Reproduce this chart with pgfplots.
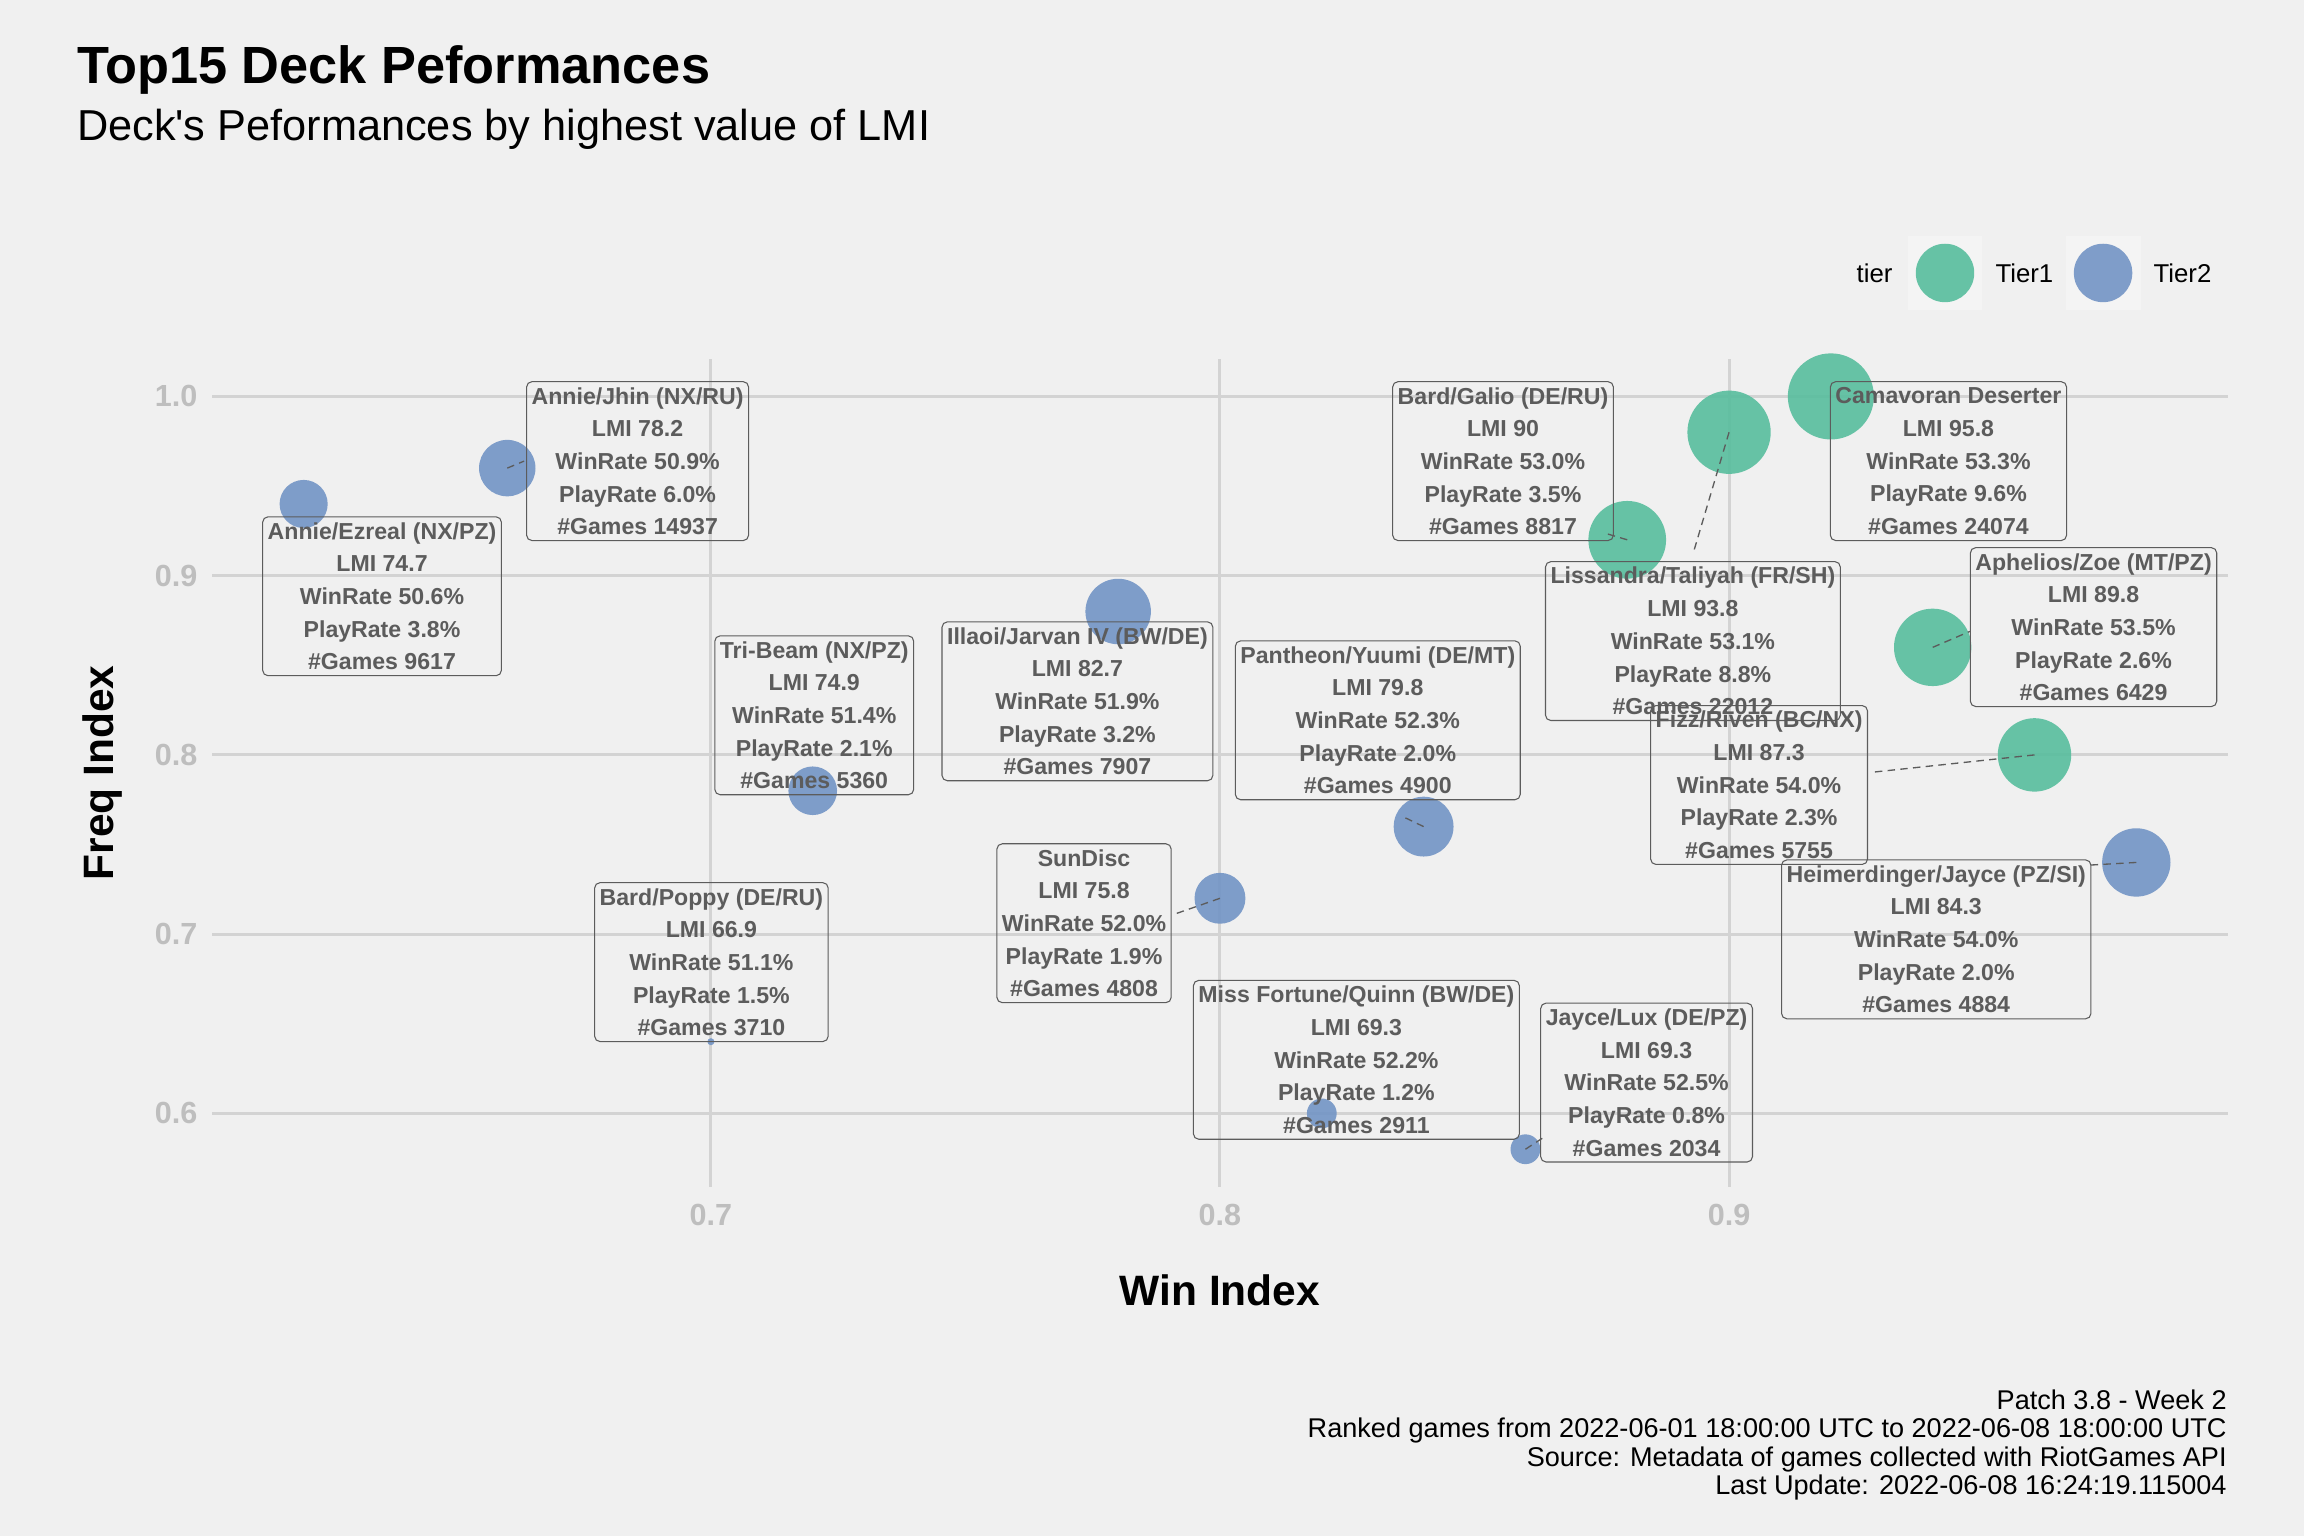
\documentclass[border=0pt]{standalone}
\usepackage{pgfplots}
\pgfplotsset{compat=1.18}
\usepackage{pgfplotstable}
\usepackage{fontspec}
\setmainfont{Liberation Sans}
\definecolor{bgc}{HTML}{F0F0F0}
\definecolor{gridc}{HTML}{D3D3D3}
\definecolor{tickc}{HTML}{BEBEBE}
\definecolor{lblc}{HTML}{5C5C5C}
\definecolor{tierone}{HTML}{57BD9D}
\definecolor{tiertwo}{HTML}{7294C5}
\definecolor{tieronekey}{HTML}{66C2A5}
\definecolor{tiertwokey}{HTML}{7F9DC9}
\definecolor{keybg}{HTML}{F4F4F4}
\pagecolor{bgc}

\pgfplotstableread{
x y lmi
0.88 0.92 90.0
0.90 0.98 93.8
0.92 1.00 95.8
0.94 0.86 89.8
0.96 0.80 87.3
}\tabone
\pgfplotstableread{
x y lmi
0.62 0.94 74.7
0.66 0.96 78.2
0.70 0.64 66.9
0.72 0.78 74.9
0.78 0.88 82.7
0.80 0.72 75.8
0.82 0.60 69.3
0.84 0.76 79.8
0.86 0.58 69.3
0.98 0.74 84.3
}\tabtwo

\begin{document}
\begin{tikzpicture}[
  lbl/.style={draw=lblc, text=lblc, line width=0.4pt, rounded corners=2pt, align=center,
    inner xsep=1.9pt, inner ysep=0pt, minimum height=59.8pt,
    font=\bfseries\fontsize{8.7}{12.3}\selectfont},
  seg/.style={draw=lblc, line width=0.5pt, dash pattern=on 2.8pt off 2pt}]
\begin{axis}[at={(79.8pt,131.4pt)}, anchor=south west, scale only axis,
  set layers,
  width=758.8pt, height=311.7pt,
  xmin=0.602, xmax=0.998, ymin=0.559, ymax=1.021,
  xtick={0.7,0.8,0.9}, ytick={0.6,0.7,0.8,0.9,1.0},
  grid=major, major grid style={draw=gridc, line width=1.13pt},
  axis line style={draw=none}, major tick length=0pt,
  tick label style={font=\bfseries\fontsize{11.5}{13}\selectfont, text=tickc, inner sep=0pt},
  xticklabel style={yshift=-6.2pt},
  yticklabel style={xshift=-5.3pt},
  /pgf/number format/fixed, /pgf/number format/fixed zerofill,
  /pgf/number format/precision=1, /pgf/number format/assume math mode=true,
  clip=false]
\addplot[scatter, only marks, mark=*, color=tiertwo,
  scatter/use mapped color={draw=tiertwo, fill=tiertwo, draw opacity=0, fill opacity=0.9},
  visualization depends on={1.32+14.88*sqrt((\thisrow{lmi}-66.9)/28.9) \as \rad},
  scatter/@pre marker code/.append style={/tikz/mark size=\rad pt}]
  table[x=x,y=y]{\tabtwo};
\addplot[scatter, only marks, mark=*, color=tierone,
  scatter/use mapped color={draw=tierone, fill=tierone, draw opacity=0, fill opacity=0.9},
  visualization depends on={1.32+14.88*sqrt((\thisrow{lmi}-66.9)/28.9) \as \rad},
  scatter/@pre marker code/.append style={/tikz/mark size=\rad pt}]
  table[x=x,y=y]{\tabone};

\begin{pgfonlayer}{axis foreground}
% repel segments
\draw[seg] (axis cs:0.66,0.96) -- (axis cs:0.6633,0.9639);
\draw[seg] (axis cs:0.88,0.92) -- (axis cs:0.8755,0.9238);
\draw[seg] (axis cs:0.90,0.98) -- (axis cs:0.8931,0.9139);
\draw[seg] (axis cs:0.94,0.86) -- (axis cs:0.9473,0.8689);
\draw[seg] (axis cs:0.96,0.80) -- (axis cs:0.9277,0.7902);
\draw[seg] (axis cs:0.84,0.76) -- (axis cs:0.8356,0.7660);
\draw[seg] (axis cs:0.80,0.72) -- (axis cs:0.7906,0.7107);
\draw[seg] (axis cs:0.86,0.58) -- (axis cs:0.8633,0.5861);
\draw[seg] (axis cs:0.98,0.74) -- (axis cs:0.9707,0.7385);

% labels
\node[lbl] at (axis cs:0.6856,0.9639) {Annie/Jhin (NX/RU)\\LMI 78.2\\WinRate 50.9\%\\PlayRate 6.0\%\\\#Games 14937};
\node[lbl] at (axis cs:0.6354,0.8885) {Annie/Ezreal (NX/PZ)\\LMI 74.7\\WinRate 50.6\%\\PlayRate 3.8\%\\\#Games 9617};
\node[lbl] at (axis cs:0.7203,0.8221) {Tri-Beam (NX/PZ)\\LMI 74.9\\WinRate 51.4\%\\PlayRate 2.1\%\\\#Games 5360};
\node[lbl] at (axis cs:0.7720,0.8299) {Illaoi/Jarvan IV (BW/DE)\\LMI 82.7\\WinRate 51.9\%\\PlayRate 3.2\%\\\#Games 7907};
\node[lbl] at (axis cs:0.7001,0.6844) {Bard/Poppy (DE/RU)\\LMI 66.9\\WinRate 51.1\%\\PlayRate 1.5\%\\\#Games 3710};
\node[lbl] at (axis cs:0.7733,0.7061) {SunDisc\\LMI 75.8\\WinRate 52.0\%\\PlayRate 1.9\%\\\#Games 4808};
\node[lbl] at (axis cs:0.8310,0.8193) {Pantheon/Yuumi (DE/MT)\\LMI 79.8\\WinRate 52.3\%\\PlayRate 2.0\%\\\#Games 4900};
\node[lbl] at (axis cs:0.8268,0.6299) {Miss Fortune/Quinn (BW/DE)\\LMI 69.3\\WinRate 52.2\%\\PlayRate 1.2\%\\\#Games 2911};
\node[lbl] at (axis cs:0.8838,0.6172) {Jayce/Lux (DE/PZ)\\LMI 69.3\\WinRate 52.5\%\\PlayRate 0.8\%\\\#Games 2034};
\node[lbl] at (axis cs:0.8556,0.9639) {Bard/Galio (DE/RU)\\LMI 90\\WinRate 53.0\%\\PlayRate 3.5\%\\\#Games 8817};
\node[lbl] at (axis cs:0.8929,0.8635) {Lissandra/Taliyah (FR/SH)\\LMI 93.8\\WinRate 53.1\%\\PlayRate 8.8\%\\\#Games 22012};
\node[lbl] at (axis cs:0.9431,0.9639) {Camavoran Deserter\\LMI 95.8\\WinRate 53.3\%\\PlayRate 9.6\%\\\#Games 24074};
\node[lbl] at (axis cs:0.9716,0.8713) {Aphelios/Zoe (MT/PZ)\\LMI 89.8\\WinRate 53.5\%\\PlayRate 2.6\%\\\#Games 6429};
\node[lbl] at (axis cs:0.9059,0.7832) {Fizz/Riven (BC/NX)\\LMI 87.3\\WinRate 54.0\%\\PlayRate 2.3\%\\\#Games 5755};
\node[lbl] at (axis cs:0.9407,0.6971) {Heimerdinger/Jayce (PZ/SI)\\LMI 84.3\\WinRate 54.0\%\\PlayRate 2.0\%\\\#Games 4884};
\end{pgfonlayer}
\end{axis}

% titles
\node[anchor=base west, inner sep=0pt, font=\bfseries\fontsize{19.7}{23}\selectfont] at (28.8pt,546.6pt) {Top15 Deck Peformances};
\node[anchor=base west, inner sep=0pt, font=\fontsize{16.3}{19}\selectfont] at (28.8pt,525.3pt) {Deck\textquotesingle s Peformances by highest value of LMI};
% axis titles
\node[anchor=base, inner sep=0pt, font=\bfseries\fontsize{16}{19}\selectfont] at (459.2pt,86.9pt) {Win Index};
\node[anchor=base, rotate=90, inner sep=0pt, font=\bfseries\fontsize{16}{19}\selectfont] at (42.7pt,287.25pt) {Freq Index};
% legend
\node[anchor=base east, inner sep=0pt, font=\fontsize{9.7}{11}\selectfont] at (712.5pt,471.9pt) {tier};
\fill[keybg] (718.0pt,461.3pt) rectangle (746.2pt,489.5pt);
\fill[keybg] (777.5pt,461.3pt) rectangle (805.7pt,489.5pt);
\fill[tieronekey] (732.1pt,475.4pt) circle (11.0pt);
\fill[tiertwokey] (791.6pt,475.4pt) circle (11.0pt);
\node[anchor=base west, inner sep=0pt, font=\fontsize{9.7}{11}\selectfont] at (750.9pt,471.9pt) {Tier1};
\node[anchor=base west, inner sep=0pt, font=\fontsize{9.7}{11}\selectfont] at (810.4pt,471.9pt) {Tier2};
% caption
\node[anchor=base east, inner sep=0pt, font=\fontsize{10.2}{11}\selectfont] at (838.3pt,47.6pt) {Patch 3.8 - Week 2};
\node[anchor=base east, inner sep=0pt, font=\fontsize{10.2}{11}\selectfont] at (838.3pt,36.9pt) {Ranked games from 2022-06-01 18:00:00 UTC to 2022-06-08 18:00:00 UTC};
\node[anchor=base east, inner sep=0pt, font=\fontsize{10.2}{11}\selectfont] at (838.3pt,26.2pt) {Source: Metadata of games collected with RiotGames API};
\node[anchor=base east, inner sep=0pt, font=\fontsize{10.2}{11}\selectfont] at (838.3pt,15.5pt) {Last Update: 2022-06-08 16:24:19.115004};
\pgfresetboundingbox
\useasboundingbox (0,0) rectangle (867.23pt,578.15pt);
\end{tikzpicture}
\end{document}
